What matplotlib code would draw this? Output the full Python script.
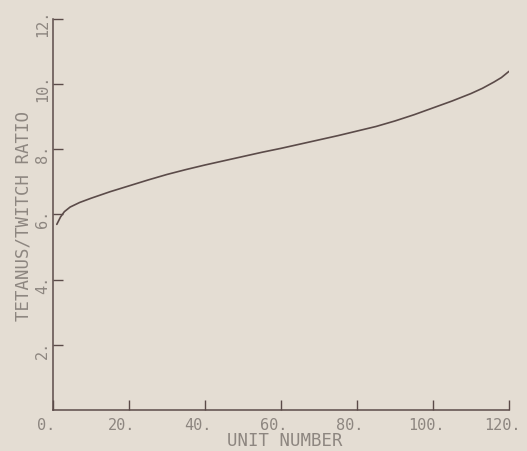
import matplotlib
matplotlib.use("Agg")
import matplotlib.pyplot as plt
import matplotlib.transforms as mtransforms

# curve
unit = [1, 2, 3, 4.5, 7, 10, 15, 20, 25, 30, 35, 40, 45, 50, 55, 60, 65, 70, 75,
        80, 85, 90, 95, 100, 105, 110, 113, 116, 118, 120]
ratio = [5.69, 5.92, 6.08, 6.22, 6.36, 6.49, 6.69, 6.87, 7.05, 7.22, 7.37, 7.51,
         7.64, 7.77, 7.90, 8.02, 8.15, 8.28, 8.41, 8.55, 8.69, 8.86, 9.05, 9.26,
         9.47, 9.70, 9.86, 10.05, 10.19, 10.38]

xticks = [0, 20, 40, 60, 80, 100, 120]
yticks = [2, 4, 6, 8, 10, 12]
xtick_labels = ["0.", "20.", "40.", "60.", "80.", "100.", "120."]
ytick_labels = ["2.", "4.", "6.", "8.", "10.", "12."]

BG = "#e4ddd3"
INK = "#5b4b49"
TXT = "#8d8680"
FONT = "DejaVu Sans Mono"

fig = plt.figure(figsize=(5.27, 4.52), dpi=100, facecolor=BG)
ax = fig.add_axes([53 / 527, 1 - 411 / 452, (509 - 53) / 527, (411 - 19.5) / 452])
ax.set_facecolor(BG)

ax.plot(unit, ratio, color=INK, lw=1.2, solid_capstyle="round", solid_joinstyle="round")

ax.set_xlim(0, 120)
ax.set_ylim(0, 12)
for s in ("top", "right"):
    ax.spines[s].set_visible(False)
for s in ("left", "bottom"):
    ax.spines[s].set_color(INK)
    ax.spines[s].set_linewidth(1.1)

ax.set_xticks(xticks)
ax.set_xticklabels(xtick_labels, fontfamily=FONT, fontsize=11, color=TXT)
ax.set_yticks(yticks)
ax.set_yticklabels(ytick_labels, fontfamily=FONT, fontsize=11, color=TXT,
                   rotation=90, va="center")
ax.tick_params(axis="x", direction="in", length=7, width=1, color=INK, pad=5)
ax.tick_params(axis="y", direction="in", length=7, width=1, color=INK, pad=2)

# nudge labels like the plotter output
shift_x = mtransforms.ScaledTranslation(-7 / 100, 0, fig.dpi_scale_trans)
for lab in ax.get_xticklabels():
    lab.set_transform(lab.get_transform() + shift_x)
shift_y = mtransforms.ScaledTranslation(0, -4 / 100, fig.dpi_scale_trans)
for lab in ax.get_yticklabels():
    lab.set_transform(lab.get_transform() + shift_y)

fig.text(285 / 527, 1 - 441 / 452, "UNIT NUMBER", ha="center", va="center",
         fontfamily=FONT, fontsize=12.5, color=TXT)
fig.text(24 / 527, 1 - 216 / 452, "TETANUS/TWITCH RATIO", ha="center", va="center",
         rotation=90, fontfamily=FONT, fontsize=12.5, color=TXT)

fig.savefig("out.png", dpi=100, facecolor=BG)
